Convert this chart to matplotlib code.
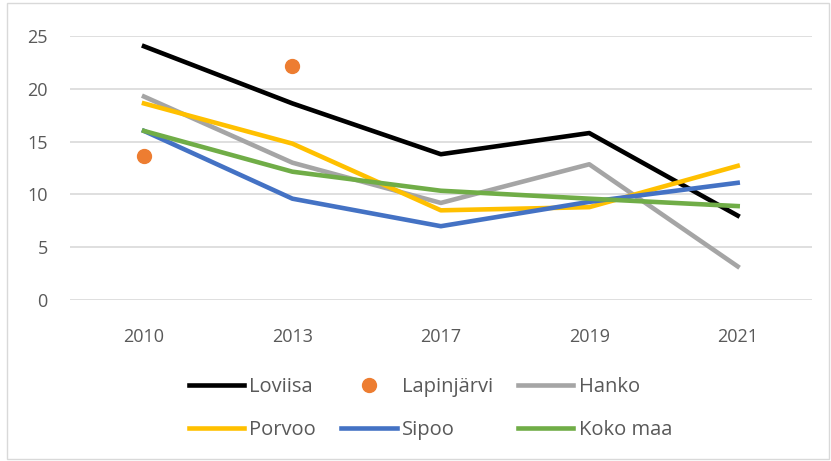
import matplotlib.pyplot as plt
from matplotlib.patches import Rectangle

plt.rcParams['font.family'] = ['Open Sans', 'DejaVu Sans']

# data
years = ['2010', '2013', '2017', '2019', '2021']
loviisa = [24.0, 18.6, 13.8, 15.8, 8.0]
lapinjarvi = [13.6, 22.1, None, None, None]
hanko = [19.25, 13.0, 9.2, 12.85, 3.2]
porvoo = [18.6, 14.8, 8.5, 8.8, 12.7]
sipoo = [16.0, 9.6, 7.0, 9.3, 11.1]
koko_maa = [16.0, 12.15, 10.35, 9.6, 8.9]

x = list(range(len(years)))
lw = 3.3

fig = plt.figure(figsize=(8.31, 4.61), dpi=100)
ax = fig.add_axes([0.084, 0.3486, 0.893, 0.574])

l_lov, = ax.plot(x, loviisa, color='#000000', lw=lw, label='Loviisa')
lap_x = [i for i, v in zip(x, lapinjarvi) if v is not None]
lap_y = [v for v in lapinjarvi if v is not None]
l_lap, = ax.plot(lap_x, lap_y, ls='none', marker='o', ms=10,
                 color='#ED7D31', label='Lapinjärvi')
l_han, = ax.plot(x, hanko, color='#A5A5A5', lw=lw, label='Hanko')
l_por, = ax.plot(x, porvoo, color='#FFC000', lw=lw, label='Porvoo')
l_sip, = ax.plot(x, sipoo, color='#4472C4', lw=lw, label='Sipoo')
l_kok, = ax.plot(x, koko_maa, color='#70AD47', lw=lw, label='Koko maa')

ax.set_xlim(-0.5, len(years) - 0.5)
ax.set_ylim(0, 25)
ax.set_yticks([0, 5, 10, 15, 20, 25])
ax.set_xticks(x)
ax.set_xticklabels(years)
ax.grid(axis='y', color='#D9D9D9', lw=1.2)
ax.set_axisbelow(True)
for s in ax.spines.values():
    s.set_visible(False)
ax.tick_params(length=0, labelsize=13, labelcolor='#595959')
ax.tick_params(axis='x', pad=20)
ax.tick_params(axis='y', pad=16)

# legend, row-major order as in the original
handles = [l_lov, l_por, l_lap, l_sip, l_han, l_kok]
leg = fig.legend(handles=handles, labels=[h.get_label() for h in handles],
                 ncol=3, loc='center', bbox_to_anchor=(0.518, 0.113),
                 frameon=False, fontsize=14.5, handlelength=2.75,
                 handletextpad=0.25, columnspacing=1.25, labelspacing=1.15)
for t in leg.get_texts():
    t.set_color('#595959')

fig.patches.append(Rectangle((0.008, 0.004), 0.99, 0.99, transform=fig.transFigure,
                             fill=False, edgecolor='#D9D9D9', lw=1))

fig.savefig('out.png', dpi=100)
